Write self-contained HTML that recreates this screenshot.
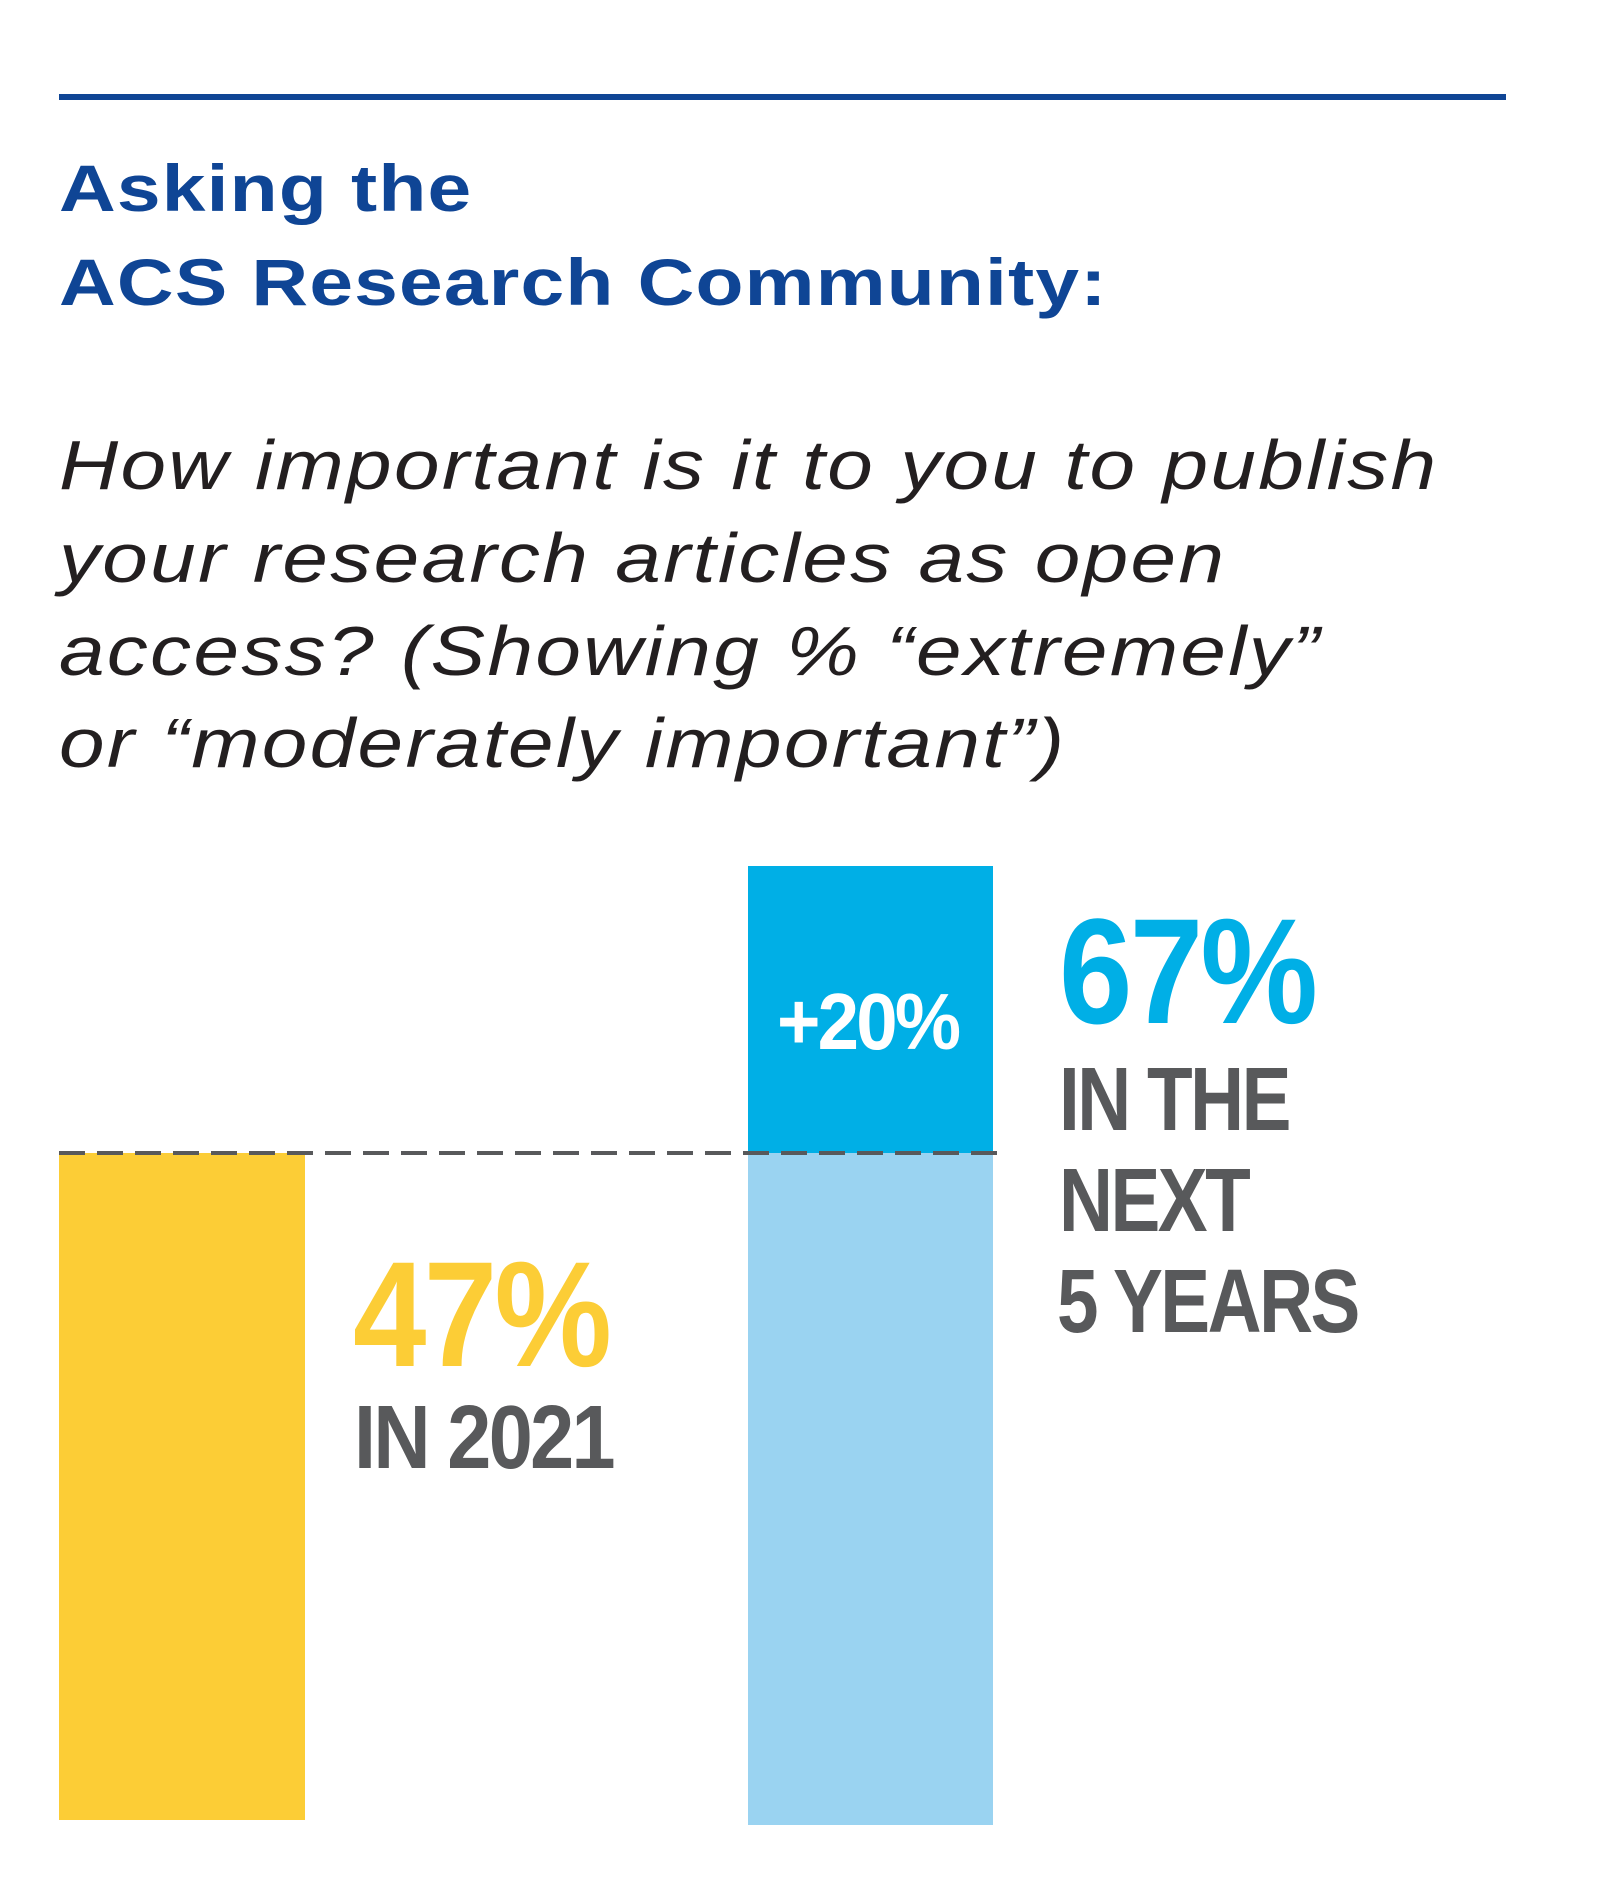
<!DOCTYPE html>
<html><head><meta charset="utf-8"><style>
body{margin:0;width:1610px;height:1889px;background:#fff;position:relative;overflow:hidden}
.a{position:absolute;white-space:nowrap}
.t{font-family:"Liberation Sans",sans-serif;font-weight:bold;color:#0f4595;font-size:66px;letter-spacing:1px;transform:scaleX(1.19);transform-origin:0 0}
.q{font-family:"Liberation Sans",sans-serif;font-style:italic;font-weight:normal;color:#231f20;font-size:70px;letter-spacing:2px;transform:scaleX(1.17);transform-origin:0 0}
.n{font-family:"Liberation Sans Narrow","Liberation Sans",sans-serif;font-weight:bold;letter-spacing:-3px;line-height:1;transform:scaleX(0.83);transform-origin:0 0}
</style></head><body>
<div class="a" style="left:59px;top:94px;width:1447px;height:6px;background:#0f4595"></div>
<div class="a t" style="left:59px;top:150px">Asking the</div>
<div class="a t" style="left:59px;top:244px">ACS Research Community:</div>
<div class="a q" style="left:59px;top:425px">How important is it to you to publish</div>
<div class="a q" style="left:59px;top:518px">your research articles as open</div>
<div class="a q" style="left:59px;top:611px">access? (Showing % “extremely”</div>
<div class="a q" style="left:59px;top:703px">or “moderately important”)</div>
<div class="a" style="left:59px;top:1153px;width:246px;height:667px;background:#fccd36"></div>
<div class="a" style="left:748px;top:866px;width:245px;height:287px;background:#00afe6"></div>
<div class="a" style="left:748px;top:1153px;width:245px;height:672px;background:#9ad3f1"></div>
<div class="a" style="left:59px;top:1151px;width:940px;height:4px;background:repeating-linear-gradient(90deg,#58595b 0 26px,transparent 26px 38px)"></div>
<div class="a n" style="left:777px;top:982px;font-size:80px;color:#fff;transform:scaleX(0.93)">+20%</div>
<div class="a n" style="left:353px;top:1239px;font-size:150px;color:#fccd36;transform:scaleX(0.88)">47%</div>
<div class="a n" style="left:354px;top:1393px;font-size:90px;color:#58595b;transform:scaleX(0.88)">IN 2021</div>
<div class="a n" style="left:1059px;top:896px;font-size:150px;color:#00afe6;transform:scaleX(0.88)">67%</div>
<div class="a n" style="left:1059px;top:1055px;font-size:90px;color:#58595b">IN THE</div>
<div class="a n" style="left:1059px;top:1156px;font-size:90px;color:#58595b">NEXT</div>
<div class="a n" style="left:1057px;top:1257px;font-size:90px;color:#58595b">5 YEARS</div>
</body></html>
